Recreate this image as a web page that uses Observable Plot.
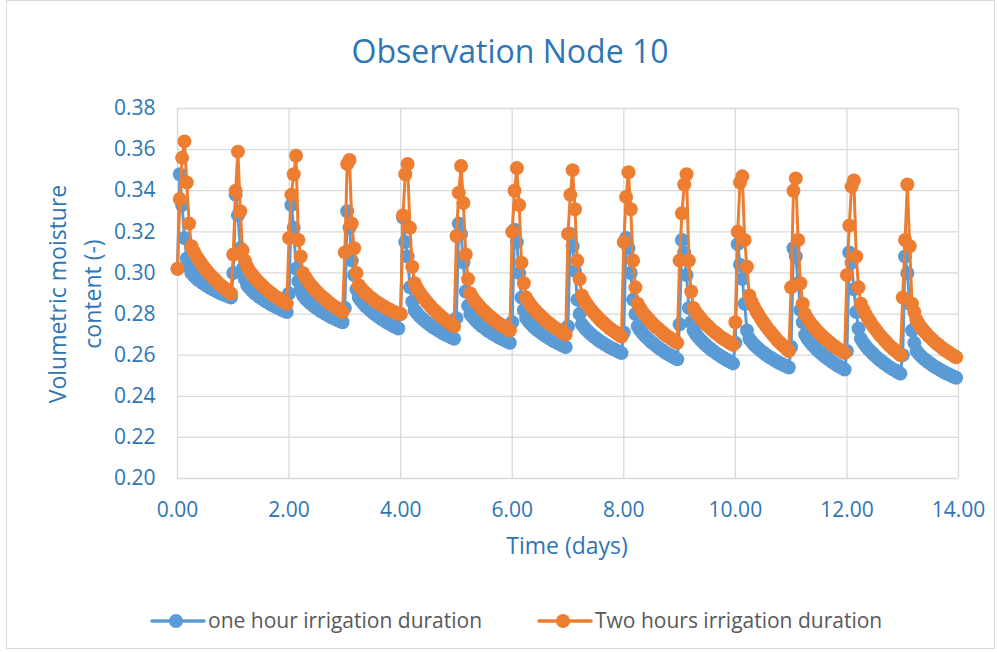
<!DOCTYPE html>
<html>
<head>
<meta charset="utf-8">
<script src="https://cdn.jsdelivr.net/npm/d3@7"></script>
<script src="https://cdn.jsdelivr.net/npm/@observablehq/plot@0.6"></script>
<style>
  html, body { margin: 0; padding: 0; background: #fff; }
  #wrap { position: relative; width: 997px; height: 652px; overflow: hidden; font-family: "Open Sans", Lato, sans-serif; }
  #frame { position: absolute; left: 6px; top: 0px; width: 989px; height: 649px; border: 1px solid #d9d9d9; box-sizing: border-box; }
  #chart { position: absolute; left: 0; top: 0; }
  .title { position: absolute; left: 310px; width: 400px; text-align: center; top: 35px; font-size: 32px; line-height: 32px; color: #2e75b6; white-space: nowrap; }
  .xtitle { position: absolute; left: 367px; width: 400px; text-align: center; top: 534px; font-size: 23px; line-height: 23px; color: #2e75b6; white-space: nowrap; }
  .ytitle { position: absolute; left: 75px; top: 294px; transform: translate(-50%, -50%) rotate(-90deg); font-size: 23px; line-height: 35px; color: #2e75b6; text-align: center; white-space: nowrap; }
  .lsym { position: absolute; top: 612px; }
  .ltext { position: absolute; top: 610px; font-size: 21px; line-height: 21px; color: #595959; white-space: nowrap; }
</style>
</head>
<body>
<div id="wrap">
  <div id="frame"></div>
  <div id="chart"></div>
  <div class="title">Observation Node 10</div>
  <div class="ytitle">Volumetric moisture<br>content (-)</div>
  <div class="xtitle">Time (days)</div>
  <div id="legend"></div>
</div>
<script>
// ---------- data ----------
const days = [0, 1, 2, 3, 4, 5, 6, 7, 8, 9, 10, 11, 12, 13];

// hourly samples within each day: irrigation spike (hours 0-5) and drainage tail (hours 6-23)
const spikeHours = [0, 1, 2, 3, 4, 5];
const tailHours = [6, 7, 8, 9, 10, 11, 12, 13, 14, 15, 16, 17, 18, 19, 20, 21, 22, 23];

// one hour irrigation duration
const oneHourSpikes = [
  [0.302, 0.348, 0.333, 0.317, 0.307, 0.303],
  [0.300, 0.338, 0.328, 0.312, 0.302, 0.297],
  [0.290, 0.333, 0.322, 0.302, 0.296, 0.292],
  [0.283, 0.330, 0.322, 0.306, 0.299, 0.292],
  [0.280, 0.327, 0.315, 0.308, 0.293, 0.286],
  [0.278, 0.324, 0.319, 0.305, 0.291, 0.284],
  [0.276, 0.321, 0.315, 0.300, 0.288, 0.282],
  [0.274, 0.319, 0.313, 0.301, 0.287, 0.280],
  [0.271, 0.317, 0.312, 0.300, 0.287, 0.280],
  [0.275, 0.316, 0.310, 0.299, 0.283, 0.276],
  [0.266, 0.314, 0.304, 0.297, 0.285, 0.272],
  [0.264, 0.312, 0.308, 0.295, 0.282, 0.276],
  [0.262, 0.310, 0.305, 0.292, 0.281, 0.273],
  [0.260, 0.308, 0.300, 0.285, 0.272, 0.266]
];
const oneHourTails = [
  [0.3000, 0.2987, 0.2976, 0.2966, 0.2958, 0.2950, 0.2942, 0.2935, 0.2928, 0.2922, 0.2916, 0.2910, 0.2904, 0.2899, 0.2894, 0.2890, 0.2885, 0.2880],
  [0.2940, 0.2926, 0.2914, 0.2904, 0.2895, 0.2885, 0.2878, 0.2870, 0.2862, 0.2856, 0.2849, 0.2843, 0.2836, 0.2831, 0.2826, 0.2820, 0.2815, 0.2810],
  [0.2890, 0.2876, 0.2864, 0.2854, 0.2845, 0.2835, 0.2828, 0.2820, 0.2812, 0.2806, 0.2799, 0.2793, 0.2786, 0.2781, 0.2776, 0.2770, 0.2765, 0.2760],
  [0.2880, 0.2864, 0.2850, 0.2838, 0.2828, 0.2817, 0.2808, 0.2799, 0.2790, 0.2783, 0.2775, 0.2768, 0.2760, 0.2754, 0.2748, 0.2742, 0.2736, 0.2730],
  [0.2820, 0.2805, 0.2792, 0.2781, 0.2771, 0.2761, 0.2753, 0.2744, 0.2736, 0.2729, 0.2722, 0.2715, 0.2708, 0.2702, 0.2697, 0.2691, 0.2686, 0.2680],
  [0.2800, 0.2785, 0.2772, 0.2761, 0.2751, 0.2741, 0.2733, 0.2724, 0.2716, 0.2709, 0.2702, 0.2695, 0.2688, 0.2682, 0.2677, 0.2671, 0.2666, 0.2660],
  [0.2780, 0.2765, 0.2752, 0.2741, 0.2731, 0.2721, 0.2713, 0.2704, 0.2696, 0.2689, 0.2682, 0.2675, 0.2668, 0.2662, 0.2657, 0.2651, 0.2646, 0.2640],
  [0.2750, 0.2735, 0.2722, 0.2711, 0.2701, 0.2691, 0.2683, 0.2674, 0.2666, 0.2659, 0.2652, 0.2645, 0.2638, 0.2632, 0.2627, 0.2621, 0.2616, 0.2610],
  [0.2740, 0.2722, 0.2708, 0.2695, 0.2684, 0.2673, 0.2663, 0.2654, 0.2644, 0.2636, 0.2628, 0.2620, 0.2612, 0.2606, 0.2599, 0.2593, 0.2586, 0.2580],
  [0.2720, 0.2702, 0.2688, 0.2675, 0.2664, 0.2653, 0.2643, 0.2634, 0.2624, 0.2616, 0.2608, 0.2600, 0.2592, 0.2586, 0.2579, 0.2573, 0.2566, 0.2560],
  [0.2680, 0.2665, 0.2652, 0.2641, 0.2631, 0.2621, 0.2613, 0.2604, 0.2596, 0.2589, 0.2582, 0.2575, 0.2568, 0.2562, 0.2557, 0.2551, 0.2546, 0.2540],
  [0.2700, 0.2681, 0.2666, 0.2652, 0.2641, 0.2629, 0.2618, 0.2608, 0.2598, 0.2590, 0.2581, 0.2573, 0.2564, 0.2557, 0.2550, 0.2544, 0.2537, 0.2530],
  [0.2680, 0.2661, 0.2646, 0.2632, 0.2621, 0.2609, 0.2598, 0.2588, 0.2578, 0.2570, 0.2561, 0.2553, 0.2544, 0.2537, 0.2530, 0.2524, 0.2517, 0.2510],
  [0.2620, 0.2606, 0.2594, 0.2584, 0.2575, 0.2565, 0.2558, 0.2550, 0.2542, 0.2536, 0.2529, 0.2523, 0.2516, 0.2511, 0.2506, 0.2500, 0.2495, 0.2490]
];

// two hours irrigation duration
const twoHourSpikes = [
  [0.302, 0.336, 0.356, 0.364, 0.344, 0.324],
  [0.309, 0.340, 0.359, 0.330, 0.311, 0.306],
  [0.317, 0.338, 0.348, 0.357, 0.316, 0.308],
  [0.310, 0.353, 0.355, 0.324, 0.312, 0.300],
  [0.280, 0.328, 0.348, 0.353, 0.322, 0.303],
  [0.318, 0.339, 0.352, 0.334, 0.309, 0.297],
  [0.320, 0.340, 0.351, 0.333, 0.305, 0.295],
  [0.319, 0.338, 0.350, 0.331, 0.306, 0.297],
  [0.315, 0.337, 0.349, 0.331, 0.306, 0.293],
  [0.306, 0.329, 0.343, 0.348, 0.306, 0.291],
  [0.276, 0.320, 0.344, 0.347, 0.316, 0.303],
  [0.293, 0.340, 0.346, 0.316, 0.295, 0.285],
  [0.299, 0.323, 0.342, 0.345, 0.308, 0.293],
  [0.288, 0.316, 0.343, 0.313, 0.285, 0.281]
];
const twoHourTails = [
  [0.3130, 0.3105, 0.3084, 0.3066, 0.3050, 0.3033, 0.3020, 0.3006, 0.2992, 0.2981, 0.2969, 0.2958, 0.2946, 0.2937, 0.2928, 0.2918, 0.2909, 0.2900],
  [0.3030, 0.3010, 0.2994, 0.2980, 0.2967, 0.2954, 0.2944, 0.2933, 0.2922, 0.2913, 0.2904, 0.2895, 0.2886, 0.2879, 0.2872, 0.2864, 0.2857, 0.2850],
  [0.3000, 0.2979, 0.2962, 0.2947, 0.2934, 0.2920, 0.2909, 0.2897, 0.2886, 0.2877, 0.2867, 0.2858, 0.2848, 0.2840, 0.2833, 0.2825, 0.2818, 0.2810],
  [0.2940, 0.2925, 0.2912, 0.2901, 0.2891, 0.2881, 0.2873, 0.2864, 0.2856, 0.2849, 0.2842, 0.2835, 0.2828, 0.2822, 0.2817, 0.2811, 0.2806, 0.2800],
  [0.2950, 0.2927, 0.2908, 0.2891, 0.2877, 0.2862, 0.2849, 0.2837, 0.2824, 0.2814, 0.2803, 0.2793, 0.2782, 0.2774, 0.2765, 0.2757, 0.2748, 0.2740],
  [0.2900, 0.2880, 0.2864, 0.2850, 0.2837, 0.2824, 0.2814, 0.2803, 0.2792, 0.2783, 0.2774, 0.2765, 0.2756, 0.2749, 0.2742, 0.2734, 0.2727, 0.2720],
  [0.2880, 0.2860, 0.2844, 0.2830, 0.2817, 0.2804, 0.2794, 0.2783, 0.2772, 0.2763, 0.2754, 0.2745, 0.2736, 0.2729, 0.2722, 0.2714, 0.2707, 0.2700],
  [0.2890, 0.2868, 0.2850, 0.2834, 0.2820, 0.2806, 0.2794, 0.2782, 0.2770, 0.2760, 0.2750, 0.2740, 0.2730, 0.2722, 0.2714, 0.2706, 0.2698, 0.2690],
  [0.2850, 0.2829, 0.2812, 0.2797, 0.2784, 0.2770, 0.2759, 0.2747, 0.2736, 0.2727, 0.2717, 0.2708, 0.2698, 0.2690, 0.2683, 0.2675, 0.2668, 0.2660],
  [0.2830, 0.2810, 0.2794, 0.2780, 0.2767, 0.2754, 0.2744, 0.2733, 0.2722, 0.2713, 0.2704, 0.2695, 0.2686, 0.2679, 0.2672, 0.2664, 0.2657, 0.2650],
  [0.2890, 0.2860, 0.2836, 0.2814, 0.2796, 0.2777, 0.2760, 0.2744, 0.2728, 0.2715, 0.2701, 0.2688, 0.2674, 0.2663, 0.2652, 0.2642, 0.2631, 0.2620],
  [0.2800, 0.2779, 0.2762, 0.2747, 0.2734, 0.2720, 0.2709, 0.2697, 0.2686, 0.2677, 0.2667, 0.2658, 0.2648, 0.2640, 0.2633, 0.2625, 0.2618, 0.2610],
  [0.2850, 0.2823, 0.2800, 0.2780, 0.2763, 0.2745, 0.2730, 0.2715, 0.2700, 0.2688, 0.2675, 0.2663, 0.2650, 0.2640, 0.2630, 0.2620, 0.2610, 0.2600],
  [0.2770, 0.2750, 0.2734, 0.2720, 0.2707, 0.2694, 0.2684, 0.2673, 0.2662, 0.2653, 0.2644, 0.2635, 0.2626, 0.2619, 0.2612, 0.2604, 0.2597, 0.2590]
];

const seriesNames = ["one hour irrigation duration", "Two hours irrigation duration"];
const seriesColors = ["#5b9bd5", "#ed7d31"];
const xTicks = [0, 2, 4, 6, 8, 10, 12, 14];
const yTicks = [0.20, 0.22, 0.24, 0.26, 0.28, 0.30, 0.32, 0.34, 0.36, 0.38];

// ---------- build rows (time in days) ----------
function rows(spikes, tails) {
  const out = [];
  days.forEach((d, i) => {
    spikeHours.forEach((h, j) => out.push({t: d + h / 24, v: spikes[i][j]}));
    tailHours.forEach((h, j) => out.push({t: d + h / 24, v: tails[i][j]}));
  });
  return out;
}
const blueRows = rows(oneHourSpikes, oneHourTails);
const orangeRows = rows(twoHourSpikes, twoHourTails);

const gridColor = "#d9d9d9";
const chart = Plot.plot({
  width: 997,
  height: 652,
  marginLeft: 177,
  marginRight: 39,
  marginTop: 108,
  marginBottom: 174,
  style: {color: "#2e75b6", fontFamily: "'Open Sans', Lato, sans-serif", fontSize: "21px", background: "transparent"},
  x: {domain: [0, 14]},
  y: {domain: [0.20, 0.38]},
  marks: [
    Plot.gridY(yTicks, {stroke: gridColor, strokeOpacity: 1, strokeWidth: 1.3}),
    Plot.gridX(xTicks, {stroke: gridColor, strokeOpacity: 1, strokeWidth: 1.3}),
    Plot.axisX(xTicks, {tickSize: 0, tickPadding: 24, tickFormat: d => d.toFixed(2), fontSize: 21, label: null}),
    Plot.axisY(yTicks, {tickSize: 0, tickPadding: 22, tickFormat: d => d.toFixed(2), fontSize: 21, label: null}),
    Plot.line(blueRows, {x: "t", y: "v", stroke: seriesColors[0], strokeWidth: 3}),
    Plot.dot(blueRows, {x: "t", y: "v", r: 7, fill: seriesColors[0], stroke: "none"}),
    Plot.line(orangeRows, {x: "t", y: "v", stroke: seriesColors[1], strokeWidth: 3}),
    Plot.dot(orangeRows, {x: "t", y: "v", r: 7, fill: seriesColors[1], stroke: "none"})
  ]
});
document.getElementById("chart").appendChild(chart);

// ---------- legend ----------
const legend = document.getElementById("legend");
const symbolLeft = [150, 537];
seriesNames.forEach((name, i) => {
  const sym = document.createElement("div");
  sym.className = "lsym";
  sym.style.left = symbolLeft[i] + "px";
  sym.innerHTML = `<svg width="56" height="18"><line x1="2" y1="9" x2="54" y2="9" stroke="${seriesColors[i]}" stroke-width="3.5" stroke-linecap="round"/><circle cx="26" cy="9" r="7" fill="${seriesColors[i]}"/></svg>`;
  legend.appendChild(sym);
  const txt = document.createElement("div");
  txt.className = "ltext";
  txt.style.left = (symbolLeft[i] + 58) + "px";
  txt.textContent = name;
  legend.appendChild(txt);
});
</script>
</body>
</html>
